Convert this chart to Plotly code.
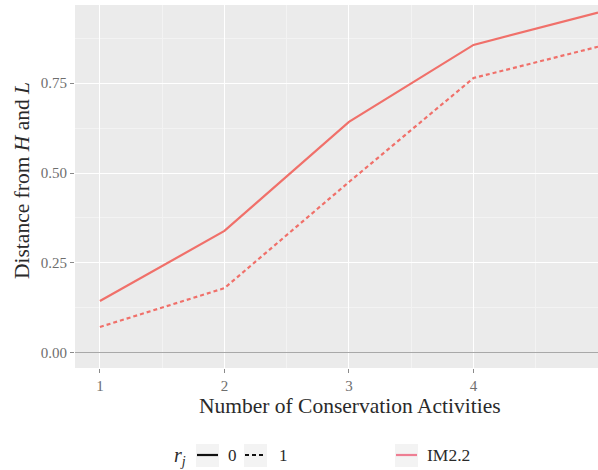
import plotly.graph_objects as go

# Number of conservation activities
activities = [1, 2, 3, 4, 5]
# Distance from H and L for IM2.2, by r_j
dist_r0 = [0.144, 0.339, 0.642, 0.856, 0.946]
dist_r1 = [0.072, 0.180, 0.475, 0.764, 0.851]

x_ticks = [1, 2, 3, 4, 5]
y_ticks = [0.00, 0.25, 0.50, 0.75]
y_tick_text = ["0.00", "0.25", "0.50", "0.75"]

RED = "#F0706A"
SERIF = "Liberation Serif, DejaVu Serif, serif"

W, H = 598, 470
ML, MR, MT, MB = 75, 0, 5, 102
PW, PH = W - ML - MR, H - MT - MB


def px(x):
    return (x - ML) / PW


def py(y):
    return (H - MB - y) / PH


def label(text, x, y, size, xanchor="center", angle=0):
    return dict(text=text, x=px(x), y=py(y), xref="paper", yref="paper",
                xanchor=xanchor, yanchor="middle", showarrow=False,
                textangle=angle,
                font=dict(family=SERIF, size=size, color="#2a2a2a"))


fig = go.Figure()
fig.add_trace(go.Scatter(x=activities, y=dist_r0, mode="lines",
                         line=dict(color=RED, width=2.2), showlegend=False))
fig.add_trace(go.Scatter(x=activities, y=dist_r1, mode="lines",
                         line=dict(color=RED, width=2.2, dash="4px,3px"),
                         showlegend=False))

axis_common = dict(
    showgrid=True, gridcolor="white", gridwidth=1.1,
    ticks="outside", ticklen=4, tickcolor="#8a8a8a", tickwidth=1,
    tickfont=dict(family=SERIF, size=15, color="#6e6e6e"),
    showline=False,
)

fig.update_xaxes(range=[0.8, 5.0], tickvals=x_ticks, zeroline=False,
                 minor=dict(showgrid=True, dtick=0.5, tick0=0.5,
                            gridcolor="#f3f3f3", gridwidth=0.6),
                 **axis_common)
fig.update_yaxes(range=[-0.042, 0.967], tickvals=y_ticks, ticktext=y_tick_text,
                 zeroline=True, zerolinecolor="#a8a8a8", zerolinewidth=1.2,
                 minor=dict(showgrid=True, dtick=0.125, tick0=0.125,
                            gridcolor="#f3f3f3", gridwidth=0.6),
                 **axis_common)

annotations = [
    label("Number of Conservation Activities", 350, 406, 21.5),
    label("Distance from <i>H</i> and <i>L</i>", 22, 181, 21.5, angle=-90),
    label("<i>r</i><sub><i>j</i></sub>", 180, 456, 20),
    label("0", 226, 455, 17, xanchor="left"),
    label("1", 277, 455, 17, xanchor="left"),
    label("IM2.2", 425, 455, 17.5, xanchor="left"),
]

shapes = []
# legend key boxes
for x0 in (196, 244, 395):
    shapes.append(dict(type="rect", xref="paper", yref="paper",
                       x0=px(x0), x1=px(x0 + 23), y0=py(467), y1=py(444),
                       fillcolor="#f3f3f3", line=dict(width=0), layer="below"))
shapes.append(dict(type="line", xref="paper", yref="paper",
                   x0=px(197), x1=px(218), y0=py(455), y1=py(455),
                   line=dict(color="#111", width=2.2)))
shapes.append(dict(type="line", xref="paper", yref="paper",
                   x0=px(245), x1=px(266), y0=py(455), y1=py(455),
                   line=dict(color="#111", width=2.2, dash="4px,3px")))
shapes.append(dict(type="line", xref="paper", yref="paper",
                   x0=px(396), x1=px(417), y0=py(455), y1=py(455),
                   line=dict(color="#EE7E93", width=2.2)))

fig.update_layout(
    width=W, height=H,
    margin=dict(l=ML, r=MR, t=MT, b=MB),
    plot_bgcolor="#EBEBEB", paper_bgcolor="white",
    annotations=annotations, shapes=shapes,
    showlegend=False,
)

fig.write_html("out.html")
